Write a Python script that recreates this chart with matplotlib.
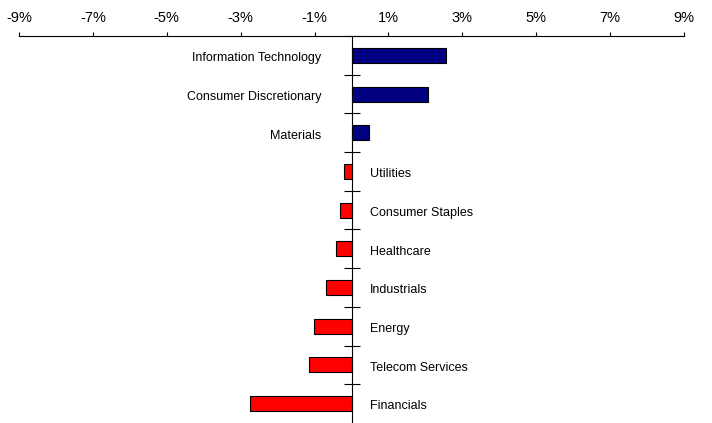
import numpy as np
import matplotlib
matplotlib.use('Agg')
import matplotlib.pyplot as plt
from matplotlib.ticker import FuncFormatter

plt.rcParams['font.family'] = ['Liberation Sans', 'DejaVu Sans']

# dados (em %)
sectors = ['Information Technology', 'Consumer Discretionary', 'Materials',
           'Utilities', 'Consumer Staples', 'Healthcare', 'Industrials',
           'Energy', 'Telecom Services', 'Financials']
values = [2.55, 2.07, 0.47, -0.21, -0.31, -0.43, -0.68, -1.02, -1.15, -2.76]
x_ticks = [-9, -7, -5, -3, -1, 1, 3, 5, 7, 9]

POS_COLOR = '#000080'
NEG_COLOR = '#ff0000'

fig = plt.figure(figsize=(7.12, 4.23), dpi=100)
ax = fig.add_axes([19 / 712, 0.0, 665 / 712, 1 - 36 / 423])

y = np.arange(len(sectors))
colors = [POS_COLOR if v >= 0 else NEG_COLOR for v in values]
ax.barh(y, values, height=0.39, color=colors, edgecolor='black', linewidth=0.8, zorder=3)

ax.set_xlim(-9, 9)
ax.set_ylim(len(sectors) - 0.5, -0.5)

# eixo x no topo
ax.xaxis.tick_top()
ax.set_xticks(x_ticks)
ax.xaxis.set_major_formatter(FuncFormatter(lambda v, p: f"{v:.0f}%"))
ax.tick_params(axis='x', direction='out', length=3, width=0.8, pad=5, labelsize=10.5)

# eixo y cruzando o zero
ax.spines['left'].set_position(('data', 0))
ax.spines['right'].set_visible(False)
ax.spines['bottom'].set_visible(False)
ax.spines['left'].set_linewidth(0.8)
ax.spines['top'].set_linewidth(0.8)
ax.set_yticks(np.arange(-0.5, len(sectors) - 0.5, 1.0))
ax.set_yticklabels([])
ax.tick_params(axis='y', direction='inout', length=11.5, width=0.8)

# rotulos das categorias
for i, (name, v) in enumerate(zip(sectors, values)):
    if v >= 0:
        ax.annotate(name, xy=(0, i), xytext=(-21.6, -2), textcoords='offset points',
                    ha='right', va='center', fontsize=9)
    else:
        ax.annotate(name, xy=(0, i), xytext=(13, -2), textcoords='offset points',
                    ha='left', va='center', fontsize=9)

fig.savefig('out.png', dpi=100)
